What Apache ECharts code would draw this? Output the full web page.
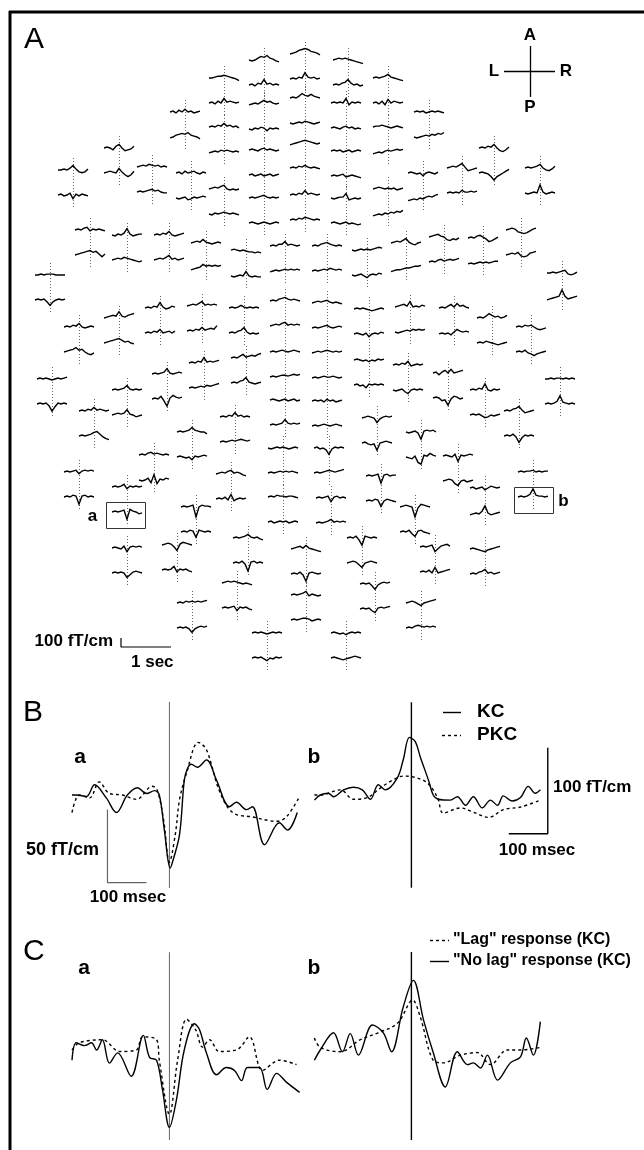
<!DOCTYPE html>
<html><head><meta charset="utf-8">
<script src="https://cdn.jsdelivr.net/npm/echarts@6.0.0/dist/echarts.min.js"></script>
<style>html,body{margin:0;padding:0;background:#fff}#c{width:644px;height:1150px}</style>
</head><body><div id="c"></div>
<script>
// ---------- Panel A: sensor layout (layout units, x centred on midline, y downward) ----------
const SENSOR_X = [-1,-42,42,-82,82,-42,-1,40,-121,123,-82,82,-42,-1,40,-187,188,-233,234,-154,156,-115,117,-82,82,-42,-1,40,
  -216,-179,-137,-100,-60,-21,21,61,100,138,177,215,-256,256,-146,-104,-62,-21,21,63,104,148,-227,-187,186,225,
  -21,21,-102,-60,63,102,142,-254,254,-139,-179,179,-21,21,-212,213,-71,71,-114,115,-23,23,-152,152,-227,-75,75,227,
  -179,179,-23,25,-110,109,-58,56,0,-179,-129,129,179,-69,69,0,-114,115,-39,40];
const SENSOR_Y = [54,60,60,78,78,104,98,103,112,112,127,127,150,143,151,148,148,170,168,167,168,173,173,189,189,198,195,198,
  230,235,235,243,251,246,246,250,243,237,238,230,275,273,308,306,308,301,303,309,307,308,327,318,318,327,
  352,353,363,358,360,365,373,379,379,374,390,390,400,401,411,411,417,418,432,432,448,448,455,456,472,474,476,472,
  487,488,497,498,507,507,538,538,549,548,545,547,549,583,584,595,603,603,633,633];
// trace sample times (ms) and amplitudes (fT/cm), upper and lower channel of each sensor pair
const TRACE_MS = [-300,-240,-180,-120,-60,0,60,120,180,240,300];
const UPPER = [
[0,10,20,40,50,60,50,30,20,10,-10],[0,-10,0,20,40,30,50,20,10,-10,-20],[0,10,20,10,20,10,0,-10,-20,-30,-40],
[0,0,10,20,20,30,20,10,0,-10,-30],[0,10,0,10,20,40,10,0,-10,-20,-30],[-10,0,10,0,20,40,20,30,10,0,10],
[0,10,0,20,50,30,20,40,20,10,0],[0,10,0,10,0,50,-20,10,0,10,0],[0,10,-10,20,0,30,0,10,-10,0,10],
[0,10,0,10,-10,0,10,0,10,0,-10],[0,10,0,20,10,40,10,20,0,10,-10],[0,10,10,20,10,0,-10,0,10,0,-10],
[0,10,0,-10,10,20,0,10,0,-10,0],[-20,-10,0,10,20,30,20,10,0,-10,0],[0,10,0,10,-10,0,10,-10,0,10,0],
[0,10,0,-20,20,40,0,-30,-20,-10,20],[0,10,0,20,10,40,0,-30,-40,-20,10],[0,0,10,0,20,50,10,-20,-30,-20,10],
[0,10,0,10,20,40,0,-20,-30,-10,20],[0,10,20,10,30,20,10,20,0,10,0],[0,10,20,10,30,50,10,-30,-20,-10,0],
[0,10,-10,20,0,10,20,0,-10,10,0],[0,10,0,-10,0,-30,0,10,0,-10,10],[0,10,20,10,30,40,0,-10,0,-10,0],
[0,10,20,10,0,10,0,10,-10,0,10],[0,10,0,10,20,30,10,0,10,0,10],[0,10,0,20,10,50,10,20,10,0,10],
[0,-10,0,10,10,50,-20,-10,0,-10,0],
[0,10,0,20,30,-10,10,0,10,0,-10],[0,-10,10,0,20,70,10,-10,0,10,10],[0,10,0,20,10,40,0,-10,0,10,20],
[0,10,20,10,40,10,0,-10,0,10,0],[10,20,10,0,10,0,-10,-10,-20,-10,-20],[0,10,0,20,20,50,10,20,10,0,10],
[0,10,0,20,30,40,20,10,0,10,0],[0,-10,0,10,0,10,0,10,20,30,20],[0,10,20,10,30,50,10,-10,-20,0,10],
[0,10,20,30,10,0,-30,-40,-20,-30,-10],[0,10,0,20,30,10,-10,-40,-30,-10,10],[0,10,20,10,-20,-30,-40,-30,-10,10,20],
[0,0,10,0,10,10,10,0,0,0,0],[0,0,10,0,10,20,30,-10,-20,-10,10],[0,10,0,20,10,60,10,-10,0,20,10],
[0,10,20,10,30,50,10,20,10,20,10],[0,10,0,10,30,10,0,10,0,10,0],[0,10,0,20,30,40,20,10,20,10,0],
[0,10,20,10,20,30,10,0,10,0,-10],[0,10,0,10,0,-10,-20,-10,0,10,0],[0,10,20,30,10,60,0,10,0,20,10],
[0,10,0,20,40,10,50,20,30,10,0],[0,10,0,20,10,40,0,-10,0,10,0],[0,10,20,30,20,70,20,10,30,40,50],
[0,10,0,20,50,30,10,20,0,10,30],[0,10,0,20,10,20,0,-20,-30,-20,-10],
[0,10,0,10,20,10,0,10,20,10,0],[0,10,20,10,20,30,20,10,20,10,20],[0,10,0,20,10,60,10,20,10,20,30],
[0,10,0,20,40,10,20,30,20,40,50],[0,10,0,-10,0,-20,0,-10,10,0,10],[0,10,0,20,10,40,-10,0,10,0,10],
[0,10,-20,10,30,0,40,0,10,20,30],[0,10,0,10,0,-10,0,10,0,10,20],[0,0,10,0,10,10,0,10,0,10,0],
[0,10,0,10,20,60,10,0,10,20,10],[0,10,0,10,20,50,10,0,10,0,10],[0,10,0,20,10,70,0,-10,10,0,10],
[0,10,0,-10,0,10,-10,0,10,-10,0],[0,10,0,10,-10,20,0,10,-10,0,10],[0,10,0,20,10,40,10,20,10,0,10],
[0,10,0,20,30,50,10,-20,-10,0,10],[0,10,0,20,10,50,10,20,0,10,0],[0,10,20,10,0,-50,-10,10,20,10,20],
[0,10,0,10,20,50,20,10,0,0,-20],[0,-10,0,10,-10,-80,10,20,10,20,0],[0,-10,0,10,0,10,0,-10,0,10,0],
[0,10,-10,0,-20,-70,-10,10,0,10,0],[0,10,0,20,30,10,20,10,0,10,0],[0,10,0,-10,20,-60,10,0,10,20,10],
[0,10,0,10,20,-20,10,20,10,20,10],[0,10,20,10,30,40,10,20,10,-10,-20],[0,10,0,10,20,-80,10,20,0,10,10],
[0,10,0,10,10,20,0,10,0,10,10],[0,10,0,10,30,-20,10,0,10,0,10],[0,10,-10,0,10,-20,0,20,10,0,10],
[0,10,0,20,10,10,0,10,10,0,-10],[0,10,0,10,20,-40,10,20,0,10,0],[0,10,0,10,20,-110,0,20,10,10,0],
[0,10,20,10,0,-110,-10,30,20,10,0],[0,10,0,10,20,40,10,0,10,-10,-20],[0,10,0,20,-20,-80,20,10,0,10,0],
[0,10,20,30,10,40,10,0,-10,-20,-30],[0,10,0,-10,20,-40,10,20,10,20,10],[0,10,20,10,-20,-60,10,30,20,10,0],
[0,10,0,10,20,-50,-20,10,20,30,10],[0,10,0,-10,-20,-30,-10,0,10,20,30],[0,10,20,10,20,10,0,-10,0,-10,-20],
[0,10,0,10,-20,-60,-10,10,20,10,20],[0,10,0,10,20,40,-10,10,0,-10,0],[0,10,0,20,10,20,10,20,10,20,30],
[0,10,20,10,-10,-30,0,10,20,30,40],[0,10,0,10,0,-10,0,10,0,10,0],[0,10,0,-10,0,-20,0,10,0,10,0]];
const LOWER = [
[0,10,0,20,10,70,20,10,20,0,10],[0,10,-10,20,10,60,10,20,0,10,0],[0,10,0,20,30,60,20,0,10,-10,0],
[0,10,-10,20,0,50,10,20,10,0,10],[0,10,-10,20,-20,40,0,20,10,0,10],[0,-10,10,0,20,10,-20,10,0,10,0],
[0,-10,0,10,0,20,10,0,-10,0,10],[0,10,0,-10,10,20,0,10,-10,0,-10],[-10,0,20,30,40,30,50,20,10,0,-20],
[0,-10,0,10,20,10,30,20,40,30,50],[-10,0,10,0,20,10,20,10,0,10,0],[-20,-10,0,-10,10,20,10,20,30,20,30],
[0,10,-10,0,10,-10,0,10,-10,0,10],[0,10,0,20,10,30,10,0,10,0,-10],[0,10,0,10,20,-10,0,10,0,-10,-20],
[0,10,20,10,0,50,10,-20,-40,-20,20],[0,10,0,-10,-40,-80,-40,-20,0,20,40],[0,10,-10,0,20,-40,10,-10,10,0,-10],
[0,-10,0,10,0,90,10,-10,0,10,0],[0,10,0,10,20,30,10,20,0,-10,-10],[0,10,0,10,0,30,10,10,20,10,20],
[0,-10,0,10,-20,-10,10,0,10,20,10],[-30,-20,-10,-20,0,-10,10,20,10,30,40],[0,-10,10,0,10,20,10,0,10,0,-10],
[-20,-10,0,-10,10,0,20,10,30,20,40],[0,10,0,-10,0,10,0,-10,0,10,0],[0,10,0,20,10,30,20,10,0,10,0],
[0,10,0,-10,0,10,-10,0,-10,-20,-10],
[0,10,20,30,40,50,30,40,10,-20,10],[0,10,20,10,30,20,10,0,-10,-20,-10],[0,10,20,10,30,50,10,20,0,10,20],
[-20,-10,0,10,40,20,30,20,30,20,30],[0,-10,0,10,0,50,0,-10,0,-10,-10],[-10,0,10,0,10,20,10,20,10,20,10],
[0,10,0,10,20,10,30,20,10,20,10],[0,-10,0,10,-10,-30,0,10,0,20,10],[-40,-30,-20,-20,-10,0,0,10,20,20,30],
[0,10,0,20,30,10,20,30,20,30,40],[-10,0,-10,0,10,0,10,0,10,20,20],[0,10,20,10,30,-10,-20,-10,20,30,40],
[0,10,0,10,-20,-60,-20,0,10,0,10],[-20,-10,0,10,20,90,20,-10,0,10,20],[0,10,0,20,10,40,0,10,20,0,20],
[0,10,0,20,10,40,10,20,30,20,60],[0,10,0,20,30,60,10,-10,0,-10,0],[0,10,20,10,30,40,10,20,10,20,10],
[0,10,0,10,20,30,10,0,10,20,10],[0,10,0,-10,10,-30,0,10,0,20,10],[0,-10,0,10,20,10,30,20,30,20,30],
[-10,0,-10,0,-20,10,40,20,10,20,10],[0,10,20,30,50,20,30,0,-20,-30,-10],[0,10,20,30,40,50,30,10,20,0,-10],
[0,10,0,20,10,0,-10,-20,-10,0,10],[0,10,0,20,-10,-20,-40,-20,-10,0,10],
[0,10,0,10,20,20,10,20,30,20,30],[0,10,0,10,20,10,10,20,10,0,10],[0,10,0,10,20,10,30,20,30,40,50],
[0,10,0,20,30,60,10,0,-10,0,10],[0,10,-10,0,-30,10,0,10,0,10,0],[0,-10,0,10,-20,-40,0,10,0,10,0],
[0,10,0,-30,-20,-80,-10,20,10,-10,0],[0,10,0,10,-20,-80,-30,10,0,10,0],[0,10,0,10,30,90,20,10,0,10,0],
[0,10,0,30,-20,-80,10,40,20,10,20],[0,10,20,10,20,60,10,0,-20,-10,0],[0,10,0,10,-10,-30,-20,0,-10,0,10],
[0,10,0,10,20,60,20,10,20,10,20],[0,10,0,10,20,10,0,10,20,10,0],[0,10,0,10,20,40,50,20,-10,-30,-40],
[0,10,0,20,-10,-70,-20,10,0,10,0],[0,10,0,10,20,10,20,30,20,10,20],[0,10,-10,-20,-10,-80,0,10,20,10,0],
[0,10,0,-10,0,-30,10,0,10,20,10],[0,-10,-20,10,-60,-80,20,10,40,20,10],[0,10,0,10,20,10,20,10,20,10,0],
[0,10,0,10,20,30,20,10,20,30,40],[0,-10,0,20,-30,60,-40,10,0,20,10],[0,10,20,10,-30,-50,0,10,-10,0,10],
[0,10,0,20,10,-80,10,20,0,10,0],[0,10,0,20,-10,50,-20,0,10,0,10],[0,10,0,20,10,-60,0,20,10,0,-10],
[0,10,0,10,30,90,20,10,10,0,10],[0,10,0,10,20,-80,30,10,0,-20,-10],[-20,-10,0,-10,20,80,0,-20,-10,0,10],
[0,10,-10,0,10,0,10,-10,0,10,0],[0,10,0,10,20,40,10,20,10,20,10],[0,10,0,20,10,-60,20,10,0,10,0],
[0,10,0,20,-20,-50,10,20,0,-10,-20],[0,10,0,20,-10,-90,10,20,0,10,0],[0,10,20,10,-20,-50,0,10,20,10,0],
[0,10,0,20,-10,-80,10,20,10,0,10],[0,10,0,10,0,-50,-20,10,20,10,0],[0,10,0,10,40,-20,10,0,10,-10,-20],
[0,10,0,20,-10,50,-10,0,10,20,30],[0,10,0,20,30,50,10,20,0,10,20],[0,10,0,10,20,-30,10,0,10,-10,-20],
[0,10,0,10,-20,-40,10,20,10,20,30],[0,10,0,10,20,20,10,-10,0,10,0],[0,10,0,10,-10,-50,-10,10,20,10,20],
[0,10,0,20,30,20,10,20,10,20,10],[0,10,0,10,-10,-30,0,-10,10,0,10],[0,10,0,-10,-20,-10,0,10,20,10,0]];
const BOXED = [81, 82];          // sensors whose lower trace is shown enlarged in B and C
const BOX_LABELS = ['b', 'a'];

// ---------- Panel B (time in ms, field in fT/cm) ----------
const BA_KC = [[-250,0],[-239,0],[-213,-1],[-192,7],[-162,-2],[-136,-12],[-108,0],[-82,5],[-59,1],[-38,3],[-26,0],
  [-13,-24],[2,-50],[10,-44],[26,-27],[38,10],[46,18],[56,21],[72,19],[95,24],[121,10],[154,-8],[172,-5],[198,-10],
  [213,-8],[244,-34],[282,-19],[303,-24],[328,-12]];
const BA_PKC = [[-250,-12],[-231,0],[-205,-2],[-180,9],[-154,1],[-121,0],[-85,-3],[-44,6],[-31,3],[-15,-17],[0,-46],
  [15,-27],[26,-3],[44,15],[74,36],[95,31],[128,3],[162,-12],[213,-15],[275,-18],[300,-15],[334,-1]];
const BB_KC = [[-249,-6],[-234,0],[-213,2],[-200,-2],[-174,6],[-149,9],[-126,6],[-105,-5],[-85,12],[-67,6],[-36,20],
  [-21,41],[-5,67],[10,62],[23,44],[44,17],[56,0],[69,-5],[100,-6],[118,-2],[139,-12],[159,-2],[182,-15],[203,-6],
  [221,-12],[236,-1],[259,-7],[280,-3],[300,10],[318,2],[331,6]];
const BB_PKC = [[-249,0],[-234,0],[-182,6],[-149,-5],[-113,-3],[-80,8],[-49,17],[-21,22],[5,21],[41,14],[67,-3],
  [82,-21],[126,-15],[159,-20],[198,-26],[236,-17],[280,-14],[331,-6]];
// ---------- Panel C ----------
const CA_NOLAG = [[-250,-7],[-239,5],[-218,3],[-200,5],[-187,0],[-172,7],[-154,-9],[-133,-2],[-98,-18],[-67,10],
  [-51,-5],[-33,-7],[-18,-27],[0,-53],[18,-34],[38,0],[64,18],[77,14],[95,-2],[121,-17],[146,-12],[167,-14],
  [185,-21],[200,-12],[231,-12],[251,-27],[275,-16],[300,-22],[334,-29]];
const CA_LAG = [[-250,0],[-231,5],[-172,7],[-128,-1],[-85,0],[-69,9],[-33,7],[-26,-7],[0,-44],[21,-7],[44,21],
  [67,14],[85,2],[103,7],[128,-1],[172,0],[205,9],[239,-14],[282,-7],[326,-10]];
const CB_NOLAG = [[-249,-12],[-234,0],[-200,20],[-177,-2],[-157,19],[-136,-6],[-100,29],[-72,20],[-51,-2],[-21,50],
  [5,81],[31,35],[56,-3],[87,-43],[118,-2],[144,-17],[159,-15],[177,-21],[195,-6],[221,-35],[254,-15],[280,-8],
  [295,14],[313,-6],[331,33]];
const CB_LAG = [[-249,14],[-234,3],[-182,-2],[-131,12],[-85,20],[-36,31],[-5,55],[3,58],[23,38],[56,-12],[82,-15],
  [126,-6],[169,-3],[203,-17],[246,0],[280,0],[331,3]];

// ---------- scale constants ----------
const UNITS_PER_SEC = 50;     // layout units per second in panel A
const UNITS_PER_FT = 0.09;    // layout units per fT/cm in panel A
const PAIR_GAP = 25;
const DOT_EXT = 12;
const A_BAR_ORIGIN = [-185, 647];
const BA_BAR = {t: -159, v: -60, amp: 50, dur: 100};    // bar corner, horizontal leg to the right
const BB_BAR = {t: 350, v: -45, amp: 100, dur: -100};   // horizontal leg to the left

const FONT = '"Liberation Sans", Arial, sans-serif';

function renderSensor(params, api) {
  var i = api.value(2);
  var p = api.coord([api.value(0), api.value(1)]);
  var q = api.coord([api.value(0), api.value(1) + PAIR_GAP]);
  var u = api.size([1, 1]);
  var sx = u[0] * UNITS_PER_SEC / 1000;
  var sy = u[1] * UNITS_PER_FT;
  function pts(c, vals) { return vals.map(function (v, k) { return [c[0] + TRACE_MS[k] * sx, c[1] - v * sy]; }); }
  var xc = Math.round(p[0]) + 0.5;
  var ch = [
    {type: 'line', shape: {x1: xc, y1: p[1] - DOT_EXT * u[1], x2: xc, y2: q[1] + DOT_EXT * u[1]},
     style: {stroke: '#666', lineWidth: 1, lineDash: [1, 2]}},
    {type: 'polyline', shape: {points: pts(p, UPPER[i])}, style: {stroke: '#000', lineWidth: 1.4, fill: 'none'}},
    {type: 'polyline', shape: {points: pts(q, LOWER[i])}, style: {stroke: '#000', lineWidth: 1.4, fill: 'none'}}
  ];
  var b = BOXED.indexOf(i);
  if (b >= 0) {
    var left = q[0] < 306 * u[0];
    var w = 39 * u[0], x0 = q[0] - w / 2 - (left ? 2 : 0), y0 = q[1] - 10 * u[1];
    ch.push({type: 'rect', shape: {x: Math.round(x0) + 0.5, y: Math.round(y0) + 0.5, width: Math.round(w), height: Math.round(26 * u[1])},
      style: {stroke: '#333', lineWidth: 1, fill: 'none'}});
    ch.push({type: 'text', x: left ? x0 - 13 : x0 + w + 11, y: y0 + 14,
      style: {text: BOX_LABELS[b], font: 'bold 17px ' + FONT, fill: '#000', align: 'center', verticalAlign: 'middle',
              textAlign: 'center', textVerticalAlign: 'middle'}});
  }
  return {type: 'group', children: ch};
}

function ln(xi, data, color, width, type, smooth) {
  return {type: 'line', xAxisIndex: xi, yAxisIndex: xi, data: data, showSymbol: false, symbol: 'none',
    smooth: smooth ? 0.35 : false, silent: true, animation: false,
    lineStyle: {color: color, width: width, type: type || 'solid'}};
}
function vline(xi, lo, hi, color, width) { return ln(xi, [[0, lo], [0, hi]], color, width); }
function bar(xi, b, color, width) {
  return ln(xi, [[b.t, b.v + b.amp], [b.t, b.v], [b.t + b.dur, b.v]], color, width);
}
function txt(x, y, s, font, align, valign) {
  return {type: 'text', x: x, y: y, style: {text: s, font: font, fill: '#000', align: align || 'left',
    verticalAlign: valign || 'middle', textAlign: align || 'left', textVerticalAlign: valign || 'middle'}};
}
function gline(x1, y1, x2, y2, w, dash) {
  return {type: 'line', shape: {x1: x1, y1: y1, x2: x2, y2: y2}, style: {stroke: '#000', lineWidth: w, lineDash: dash || null}};
}

const hidden = {show: false};
function vax(min, max, inv) { return {type: 'value', min: min, max: max, inverse: !!inv, show: false, splitLine: hidden}; }

const option = {
  backgroundColor: '#fff',
  animation: false,
  grid: [
    {left: 0, top: 0, width: 644, height: 700},
    {left: 72, top: 700, width: 228, height: 190},
    {left: 314, top: 700, width: 240, height: 190},
    {left: 72, top: 950, width: 228, height: 190},
    {left: 314, top: 950, width: 240, height: 190}
  ],
  xAxis: [
    Object.assign(vax(-306, 338), {gridIndex: 0}),
    Object.assign(vax(-250, 335), {gridIndex: 1}),
    Object.assign(vax(-250, 366), {gridIndex: 2}),
    Object.assign(vax(-250, 335), {gridIndex: 3}),
    Object.assign(vax(-250, 366), {gridIndex: 4})
  ],
  yAxis: [
    Object.assign(vax(0, 700, true), {gridIndex: 0}),
    Object.assign(vax(-65, 65), {gridIndex: 1}),
    Object.assign(vax(-110.5, 110.5), {gridIndex: 2}),
    Object.assign(vax(-61.65, 68.5), {gridIndex: 3}),
    Object.assign(vax(-104.7, 116.3), {gridIndex: 4})
  ],
  series: [
    {type: 'custom', xAxisIndex: 0, yAxisIndex: 0, renderItem: renderSensor, clip: false, silent: true,
     data: SENSOR_X.map(function (x, i) { return [x, SENSOR_Y[i], i]; }), encode: {x: 0, y: 1}},
    ln(0, [[A_BAR_ORIGIN[0], A_BAR_ORIGIN[1] - 100 * UNITS_PER_FT], A_BAR_ORIGIN,
           [A_BAR_ORIGIN[0] + UNITS_PER_SEC, A_BAR_ORIGIN[1]]], '#000', 1.2),
    vline(1, -63.7, 63.7, '#666', 1),
    ln(1, BA_PKC, '#000', 1.4, [3, 3], true),
    ln(1, BA_KC, '#000', 1.4, 'solid', true),
    bar(1, BA_BAR, '#666', 1.2),
    vline(2, -108, 108, '#000', 1.4),
    ln(2, BB_PKC, '#000', 1.4, [3, 3], true),
    ln(2, BB_KC, '#000', 1.4, 'solid', true),
    bar(2, BB_BAR, '#000', 1.4),
    vline(3, -61.6, 67, '#666', 1),
    ln(3, CA_LAG, '#000', 1.4, [3, 3], true),
    ln(3, CA_NOLAG, '#000', 1.4, 'solid', true),
    vline(4, -104.6, 114, '#000', 1.4),
    ln(4, CB_LAG, '#000', 1.4, [3, 3], true),
    ln(4, CB_NOLAG, '#000', 1.4, 'solid', true)
  ],
  graphic: [
    gline(10, 11, 10, 1150, 3), gline(9, 12, 644, 12, 3),
    txt(24, 40, 'A', '30px ' + FONT),
    txt(530, 35, 'A', 'bold 17px ' + FONT, 'center'),
    txt(494, 71, 'L', 'bold 17px ' + FONT, 'center'),
    txt(566, 71, 'R', 'bold 17px ' + FONT, 'center'),
    txt(530, 107, 'P', 'bold 17px ' + FONT, 'center'),
    gline(504, 71.5, 555, 71.5, 1.3), gline(530.5, 46, 530.5, 97, 1.3),
    txt(113, 641, '100 fT/cm', 'bold 17px ' + FONT, 'right'),
    txt(131, 662, '1 sec', 'bold 17px ' + FONT),
    txt(23, 713, 'B', '30px ' + FONT),
    txt(80, 757, 'a', 'bold 21px ' + FONT, 'center'),
    txt(314, 757, 'b', 'bold 21px ' + FONT, 'center'),
    gline(443, 712.5, 461, 712.5, 1.4), txt(477, 712, 'KC', 'bold 19px ' + FONT),
    gline(442, 735.5, 461, 735.5, 1.4, [3, 3]), txt(477, 735, 'PKC', 'bold 19px ' + FONT),
    txt(26, 850, '50 fT/cm', 'bold 18px ' + FONT),
    txt(128, 897, '100 msec', 'bold 17px ' + FONT, 'center'),
    txt(553, 787, '100 fT/cm', 'bold 17px ' + FONT),
    txt(537, 850, '100 msec', 'bold 17px ' + FONT, 'center'),
    txt(23, 952, 'C', '30px ' + FONT),
    txt(84, 968, 'a', 'bold 21px ' + FONT, 'center'),
    txt(314, 968, 'b', 'bold 21px ' + FONT, 'center'),
    gline(430, 940.5, 449, 940.5, 1.4, [3, 3]), txt(453, 940, '"Lag" response (KC)', 'bold 16px ' + FONT),
    gline(430, 961.5, 449, 961.5, 1.4), txt(453, 961, '"No lag" response (KC)', 'bold 16px ' + FONT)
  ]
};
const chart = echarts.init(document.getElementById('c'), null, {renderer: 'canvas'});
chart.setOption(option);
</script></body></html>
